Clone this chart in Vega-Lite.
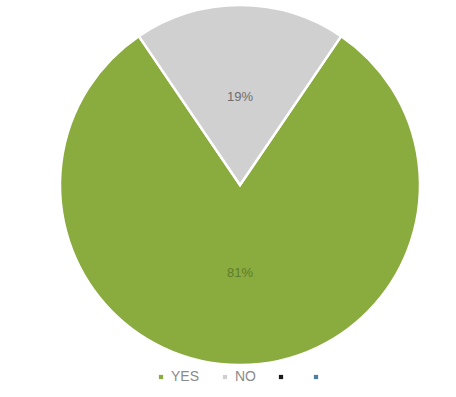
{
  "$schema": "https://vega.github.io/schema/vega-lite/v6.json",
  "width": 432,
  "height": 362,
  "padding": {"left": 24, "top": 0, "right": 0, "bottom": 0},
  "background": "white",
  "data": {"values": [
    {"answer": "YES", "value": 0.81, "ord": 1},
    {"answer": "NO", "value": 0.19, "ord": 2}
  ]},
  "encoding": {
    "theta": {"field": "value", "type": "quantitative", "stack": true, "scale": {"range": [0.5969, 6.8801]}},
    "order": {"field": "ord", "type": "quantitative"}
  },
  "layer": [
    {
      "mark": {"type": "arc", "radius": 180, "stroke": "white", "strokeWidth": 2.5},
      "encoding": {
        "color": {
          "field": "answer",
          "type": "nominal",
          "scale": {"domain": ["YES", "NO", "S3", "S4"], "range": ["#8aab3e", "#d0d0d0", "#1a1a1a", "#4f7fa0"]},
          "legend": {
            "title": null,
            "orient": "bottom",
            "direction": "horizontal",
            "offset": 4,
            "symbolType": "square",
            "symbolSize": 18,
            "symbolStrokeWidth": 0,
            "labelFont": "Liberation Sans",
            "labelFontSize": 14,
            "labelColor": "#8a8a8a",
            "labelExpr": "datum.label == 'YES' || datum.label == 'NO' ? datum.label : ''",
            "labelOffset": 3,
            "columnPadding": 18
          }
        }
      }
    },
    {
      "mark": {"type": "text", "radius": 88, "font": "Liberation Sans", "fontSize": 13},
      "encoding": {
        "text": {"field": "value", "type": "quantitative", "format": ".0%"},
        "color": {"condition": {"test": "datum.answer == 'YES'", "value": "#5f7d2c"}, "value": "#6e6e6e"}
      }
    }
  ],
  "config": {"view": {"stroke": null}, "legend": {"layout": {"bottom": {"anchor": "middle"}}}}
}
